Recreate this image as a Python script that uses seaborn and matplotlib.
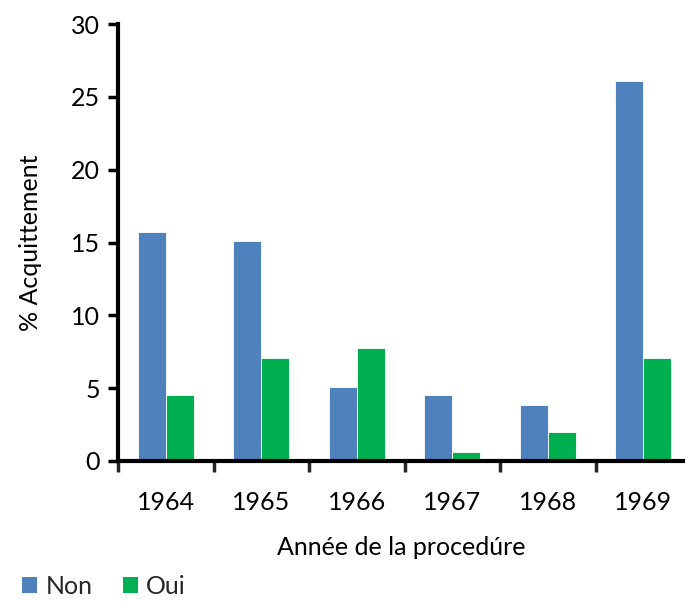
import matplotlib
matplotlib.use("Agg")
import matplotlib.pyplot as plt
import seaborn as sns
import pandas as pd
from matplotlib.patches import Patch

years = ["1964", "1965", "1966", "1967", "1968", "1969"]
non_vals = [15.7, 15.1, 5.1, 4.5, 3.85, 26.1]
oui_vals = [4.5, 7.1, 7.75, 0.6, 2.0, 7.1]
series = ["Non", "Oui"]
colors = ["#4F81BD", "#00B050"]

df = pd.DataFrame({
    "year": years * 2,
    "val": non_vals + oui_vals,
    "serie": [series[0]] * len(years) + [series[1]] * len(years),
})

sns.set_theme(style="white")
plt.rcParams["font.family"] = ["Lato", "DejaVu Sans"]

fig = plt.figure(figsize=(6.85, 6.01), dpi=100)
ax = fig.add_axes([118 / 685, (601 - 461) / 601, 1 - 118 / 685, (461 - 24) / 601])

sns.barplot(data=df, x="year", y="val", hue="serie", hue_order=series,
            palette=colors, order=years, width=0.59, ax=ax, legend=False,
            edgecolor="white", linewidth=0.6, saturation=1)

ax.set_ylim(0, 30)
ax.set_xlim(-0.5, 5.437)
ax.set_yticks(range(0, 31, 5))
ax.tick_params(axis="y", direction="out", length=7, width=2.5, labelsize=18, pad=6, colors="black", left=True)
# x ticks at category boundaries
ax.set_xticks([i + 0.5 for i in range(len(years) - 1)] + [-0.5], minor=True)
ax.tick_params(axis="x", which="minor", direction="out", length=8, width=2.5, bottom=True)
ax.tick_params(axis="x", which="major", length=0, labelsize=18, pad=21.5)
for lab in ax.get_yticklabels() + ax.get_xticklabels():
    lab.set_color("black")

for s in ["top", "right"]:
    ax.spines[s].set_visible(False)
for s in ["left", "bottom"]:
    ax.spines[s].set_linewidth(3)
    ax.spines[s].set_color("black")

ax.set_xlabel("Année de la procedúre", fontsize=18, labelpad=16, color="black")
ax.set_ylabel("% Acquittement", fontsize=18, labelpad=20.5, color="black")

handles = [Patch(facecolor=c, edgecolor="none") for c in colors]
fig.legend(handles, series, loc="lower left", bbox_to_anchor=(0.01, -0.02), ncol=2,
           frameon=False, fontsize=18, handlelength=0.6, handleheight=0.6,
           handletextpad=0.35, columnspacing=1.2, borderaxespad=0.2)

fig.savefig("out.png", dpi=100)
